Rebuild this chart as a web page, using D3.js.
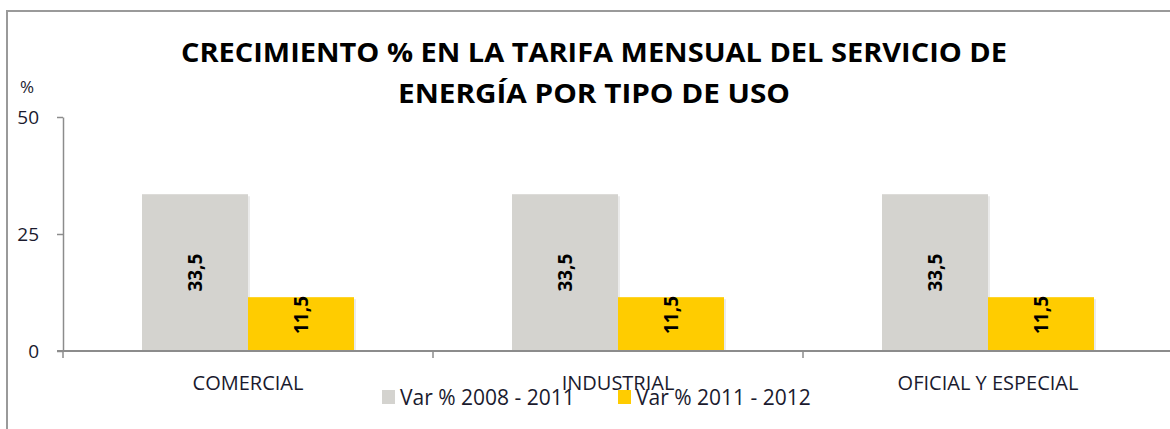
<!DOCTYPE html>
<html>
<head>
<meta charset="utf-8">
<script src="https://cdn.jsdelivr.net/npm/d3@7"></script>
<style>
  body { margin: 0; background: #fff; }
  svg { display: block; font-family: "Open Sans", "DejaVu Sans", sans-serif; }
</style>
</head>
<body>
<div id="chart"></div>
<script>
// chart data
const categories = ["COMERCIAL", "INDUSTRIAL", "OFICIAL Y ESPECIAL"];
const seriesNames = ["Var % 2008 - 2011", "Var % 2011 - 2012"];
const var0811 = [33.5, 33.5, 33.5];
const var1112 = [11.5, 11.5, 11.5];
const yTicks = [0, 25, 50];
const titleLines = ["CRECIMIENTO % EN LA TARIFA MENSUAL DEL SERVICIO DE", "ENERGÍA POR TIPO DE USO"];

const colors = ["#d4d3cf", "#ffcc00"];
const W = 1170, H = 429;
const margin = { top: 117, left: 63, bottom: 78 };
const plotW = 1110;
const plotH = H - margin.top - margin.bottom;

const svg = d3.select("#chart").append("svg")
    .attr("width", W)
    .attr("height", H);

// outer frame (left + top only visible)
svg.append("path")
    .attr("d", `M7,${H} V11 H${W}`)
    .attr("fill", "none")
    .attr("stroke", "#9a9a9a")
    .attr("stroke-width", 2);

// title
svg.append("g").selectAll("text")
    .data(titleLines)
    .join("text")
    .attr("x", 594)
    .attr("y", (d, i) => 62 + i * 41)
    .attr("text-anchor", "middle")
    .attr("font-weight", "bold")
    .attr("font-size", 26)
    .attr("textLength", (d, i) => i === 0 ? 826 : 392)
    .attr("lengthAdjust", "spacingAndGlyphs")
    .attr("fill", "#000")
    .text(d => d);

const g = svg.append("g")
    .attr("transform", `translate(${margin.left},${margin.top})`);

const x0 = d3.scaleBand()
    .domain(categories)
    .range([0, plotW])
    .paddingInner(0)
    .paddingOuter(0);

const x1 = d3.scaleBand()
    .domain([0, 1])
    .range([x0.bandwidth() * 0.2135, x0.bandwidth() * 0.7865]);

const y = d3.scaleLinear()
    .domain([0, 50])
    .range([plotH, 0]);

// bars
const rows = categories.map((c, i) => ({ cat: c, vals: [var0811[i], var1112[i]] }));

const groups = g.selectAll(".cat")
    .data(rows)
    .join("g")
    .attr("class", "cat")
    .attr("transform", d => `translate(${x0(d.cat)},0)`);

groups.selectAll("rect.shadow")
    .data(d => d.vals)
    .join("rect")
    .attr("class", "shadow")
    .attr("x", (d, i) => x1(i) + 2)
    .attr("y", d => y(d) + 2)
    .attr("width", x1.bandwidth())
    .attr("height", d => plotH - y(d) - 2)
    .attr("fill", "#000")
    .attr("opacity", 0.08);

groups.selectAll("rect.bar")
    .data(d => d.vals)
    .join("rect")
    .attr("class", "bar")
    .attr("x", (d, i) => x1(i))
    .attr("y", d => y(d))
    .attr("width", x1.bandwidth())
    .attr("height", d => plotH - y(d));

groups.selectAll("rect.bar")
    .attr("fill", (d, i) => colors[i]);

// value labels, rotated
groups.selectAll("text.val")
    .data(d => d.vals)
    .join("text")
    .attr("class", "val")
    .attr("transform", (d, i) => {
        const cx = x1(i) + x1.bandwidth() / 2;
        const cy = Math.min((y(d) + plotH) / 2, plotH - 36);
        return `translate(${cx},${cy}) rotate(-90)`;
    })
    .attr("text-anchor", "middle")
    .attr("dy", "0.35em")
    .attr("font-weight", "bold")
    .attr("font-size", 19)
    .attr("fill", "#000")
    .text(d => d3.format(".1f")(d).replace(".", ","));

// y axis
const yAxis = g.append("g")
    .call(d3.axisLeft(y).tickValues(yTicks).tickSize(6).tickPadding(18).tickSizeOuter(0));
yAxis.select(".domain").attr("stroke", "#8c8c8c").attr("stroke-width", 1.5);
yAxis.selectAll(".tick line").attr("stroke", "#8c8c8c").attr("stroke-width", 1.5);
yAxis.selectAll(".tick text")
    .attr("font-size", 19)
    .attr("font-family", "Open Sans, sans-serif")
    .attr("fill", "#1a1a2e");

// x axis
const xAxis = g.append("g")
    .attr("transform", `translate(0,${plotH})`)
    .call(d3.axisBottom(x0).tickSize(0).tickPadding(25));
xAxis.select(".domain").attr("stroke", "#8c8c8c").attr("stroke-width", 2)
    .attr("d", `M-6,0H${plotW}`);
xAxis.selectAll(".tick text")
    .attr("font-size", 20)
    .attr("font-family", "Open Sans, sans-serif")
    .attr("fill", "#1a1a2e");

// category separator ticks
g.append("g").selectAll("line")
    .data(categories)
    .join("line")
    .attr("x1", d => x0(d))
    .attr("x2", d => x0(d))
    .attr("y1", plotH)
    .attr("y2", plotH + 7)
    .attr("stroke", "#8c8c8c")
    .attr("stroke-width", 1.5);

// unit label
svg.append("text")
    .attr("x", 20)
    .attr("y", 93)
    .attr("font-size", 17)
    .attr("fill", "#1a1a2e")
    .text("%");

// legend
const legendX = [382, 618];
const legend = svg.append("g").selectAll("g")
    .data(seriesNames)
    .join("g")
    .attr("transform", (d, i) => `translate(${legendX[i]},390)`);
legend.append("rect")
    .attr("width", 13)
    .attr("height", 14)
    .attr("fill", (d, i) => colors[i]);
legend.append("text")
    .attr("x", 18)
    .attr("y", 15)
    .attr("font-size", 21)
    .attr("fill", "#1a1a2e")
    .text(d => d);
</script>
</body>
</html>
